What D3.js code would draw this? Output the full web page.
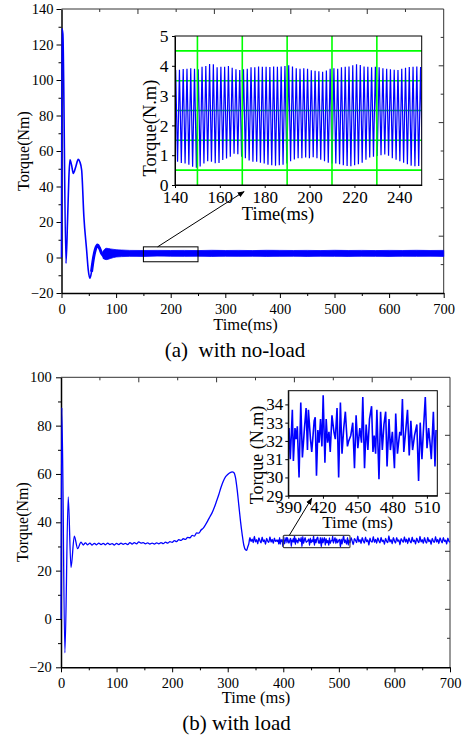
<!DOCTYPE html>
<html>
<head>
<meta charset="utf-8">
<script src="https://d3js.org/d3.v7.min.js"></script>
<style>
  body { margin: 0; background: #fff; }
  svg text { font-family: "Liberation Serif", "Times New Roman", serif; }
</style>
</head>
<body>
<div id="chart"></div>
<script>
// ---------- (a) with no-load ----------
// start transient
const noLoadT = [0, 0.8, 2.5, 8.2, 11, 13.5, 15.5, 18.5, 21.6, 26, 30.7, 33.5, 36.9, 41, 46, 49, 52, 55, 58, 62, 66, 70, 73.5, 79.5];
const noLoadV = [0, 129, 126, -3.3, 20, 45, 55, 52, 47.4, 51, 55.3, 54, 49.3, 23, 4.2, -7, -11.7, -8, -1.4, 4.5, 7, 5, 2.4, 0.1];

// steady ripple band on the main plot (upper / lower edge)
const bandT    = [76, 82, 90, 100, 110, 125, 150, 175, 200, 225, 250, 275, 300, 325, 350, 375, 400, 425, 450, 475, 500, 525, 550, 575, 600, 625, 650, 675, 700];
const bandHigh = [3.5, 5.2, 4.8, 4.4, 4.2, 4.0, 3.95, 4.0, 3.95, 3.98, 3.9, 4.05, 3.95, 4.0, 3.9, 4.05, 4.0, 3.95, 4.0, 3.9, 4.05, 3.95, 4.0, 3.9, 4.0, 3.95, 4.05, 3.95, 4.0];
const bandLow  = [-0.5, -1.2, -0.5, 0.3, 0.5, 0.65, 0.6, 0.8, 0.7, 0.65, 0.7, 0.6, 0.7, 0.65, 0.7, 0.6, 0.65, 0.7, 0.6, 0.7, 0.65, 0.6, 0.7, 0.65, 0.6, 0.7, 0.65, 0.7, 0.6];

// zoomed ripple 140-250 ms: one peak and one trough per period
const zoomStart = 140.3, zoomPeriod = 1.68;
const zoomPeaks = [3.86, 3.87, 3.89, 3.90, 3.92, 3.90, 3.88, 3.97, 3.99, 4.06,
  4.05, 3.95, 3.97, 3.97, 3.99, 3.93, 3.88, 3.86,
  3.88, 3.90, 3.95, 3.95, 3.98, 3.97, 3.97, 3.96, 3.98, 3.97, 3.98, 3.99,
  4.02, 3.98, 3.92, 3.90, 3.92, 3.90,
  3.85, 3.83, 3.82, 3.80, 3.84,
  3.90, 3.92, 3.90, 3.95, 3.97, 3.98,
  4.02, 4.05, 4.03, 3.98, 3.97, 3.95, 3.97,
  3.95, 3.92, 3.90, 3.88, 3.87, 3.86,
  3.90, 3.93, 3.96, 3.97, 3.98, 3.96];
const zoomTroughs = [0.78, 0.74, 0.72, 0.68, 0.61, 0.58, 0.62, 0.72, 0.80, 0.78,
  0.73, 0.74, 0.84, 0.89, 0.95, 1.05, 1.03, 0.95, 0.90, 0.82,
  0.78, 0.78, 0.75, 0.72, 0.68, 0.66, 0.65, 0.66, 0.68, 0.72,
  0.80, 0.86, 0.90, 0.90, 0.92, 0.90, 0.93, 0.90, 0.85, 0.80,
  0.75, 0.72, 0.72, 0.70, 0.66, 0.64, 0.63, 0.66, 0.70, 0.75,
  0.85, 0.92, 0.95, 0.97, 1.00, 1.02, 0.98, 0.90, 0.85, 0.80,
  0.75, 0.70, 0.65, 0.63, 0.64, 0.66];

// ---------- (b) with load ----------
const loadT = [0, 1.5, 7, 13, 18, 24, 30, 36, 40, 44, 48, 52, 56, 60, 64, 68, 72, 76, 80, 84, 88, 92, 96, 100,
  104, 108, 112, 116, 120, 124, 128, 132, 136, 140, 144, 148, 152, 156, 160, 164, 168, 172, 176, 180, 184, 188,
  192, 196, 200, 204, 208, 212, 216, 220, 224, 228, 232, 236, 240, 244, 248, 252, 256, 260, 264, 268, 272, 276,
  280, 284, 288, 292, 296, 300, 304, 308, 311, 314, 317, 320, 323, 326, 329, 332, 334, 336];
const loadV = [0, 87.5, -14, 50.5, 21.3, 34.3, 29.1, 31.8, 30.6, 31.5, 30.7, 31.4, 30.6, 31.3, 30.7, 31.4, 30.8, 31.3, 30.7, 31.4, 30.8, 31.2, 30.6, 31.3,
  30.8, 31.4, 30.9, 31.3, 30.8, 31.6, 31.0, 31.6, 31.1, 31.9, 31.4, 31.6, 31.1, 31.5, 31.0, 31.4, 31.0, 31.5, 31.1, 31.6, 31.2, 31.8,
  31.4, 32.0, 31.7, 32.4, 32.0, 32.8, 32.5, 33.2, 32.9, 33.8, 33.6, 34.6, 34.3, 35.6, 35.5, 36.8, 37.6, 39.0, 40.6, 42.3, 44.0, 46.2,
  48.8, 51.5, 54.5, 57.0, 58.8, 59.8, 60.5, 60.9, 60.6, 58.5, 53.5, 47, 40.5, 35, 30.5, 28.6, 28.4, 29.8];

// steady part before the zoom window, every 2 ms from 338
const steadyAStart = 338, steadyStep = 2;
const steadyA = [31.2, 33.6, 32.1, 33.0, 31.6, 34.2, 31.9, 32.8, 31.1, 33.5, 32.4, 31.5, 33.9, 32.0, 32.7, 30.9, 33.3, 32.2, 31.7, 34.0, 31.8, 32.9, 31.3, 33.4, 32.1, 32.6];

// zoom window 390-518 ms
const loadZoomT = [389.4, 390.6, 391.7, 393.5, 394.4, 395.8, 396.7, 397.8, 399.3, 400.8, 402.2, 404, 405.4, 406.6, 407.4, 409.2, 410.3, 412.4, 413.3, 414.4,
  415.6, 416.7, 417.9, 419.1, 420.2, 421.7, 422.8, 424, 425.2, 426.3, 427.8, 429.5, 430.7, 432.2, 433.6, 435.1, 436.5, 438, 439.4, 441.2,
  442.3, 444.1, 445.8, 447.3, 448.7, 450.2, 451.9, 453.4, 454.5, 456, 457.4, 458.9, 460.3, 462.1, 463.3, 464.4, 465.6, 466.7, 468.5, 469.9,
  471.4, 472.8, 474.3, 475.5, 477.2, 478.4, 480.1, 481.9, 483, 484.5, 486.5, 487.7, 488.8, 490, 491.7, 493.2, 494.7, 496.1, 497.6, 499.3,
  501.3, 502.8, 504.2, 505.7, 506.9, 508.6, 510.1, 511.5, 512.7, 513.8, 515.6, 517, 517.9];
const loadZoomV = [32.1, 32.7, 31.0, 33.7, 30.9, 32.7, 32.1, 32.8, 30.0, 34.1, 31.1, 32.7, 33.8, 31.5, 33.7, 32.1, 31.4, 33.1, 33.3, 30.1,
  32.6, 31.9, 33.2, 31.7, 34.5, 30.8, 33.2, 31.9, 32.5, 31.4, 33.4, 32.5, 32.1, 33.8, 30.0, 34.1, 31.3, 32.7, 33.6, 31.7,
  32.0, 32.3, 33.0, 30.5, 33.4, 31.6, 32.7, 31.9, 34.4, 30.5, 32.9, 31.5, 33.2, 33.9, 31.4, 32.3, 31.3, 33.7, 29.9, 33.6,
  31.5, 32.9, 33.6, 30.6, 33.2, 31.5, 32.5, 30.5, 33.5, 31.3, 32.5, 32.3, 34.3, 31.4, 32.6, 33.7, 31.2, 33.1, 31.5, 32.3,
  32.9, 29.8, 33.0, 31.0, 32.5, 34.4, 31.6, 32.7, 31.9, 31.0, 33.6, 30.6, 32.6];

// steady part after the zoom window, every 2 ms from 520
const steadyBStart = 520;
const steadyB = [31.5, 33.7, 32.2, 30.8, 33.2, 32.5, 31.6, 34.3, 31.9, 32.8, 31.2, 33.6, 32.3, 31.4, 33.9, 32.0, 32.7, 30.6, 33.4, 32.1,
  31.8, 34.1, 31.7, 32.9, 31.3, 33.5, 32.4, 31.5, 33.8, 32.0, 32.6, 30.9, 33.3, 32.2, 31.6, 34.4, 31.9, 32.8, 31.1, 33.6,
  32.3, 31.4, 33.7, 32.1, 32.7, 30.7, 33.2, 32.4, 31.7, 34.0, 31.8, 33.0, 31.2, 33.5, 32.2, 31.5, 33.9, 32.0, 32.6, 31.0,
  33.4, 32.3, 31.6, 34.2, 31.9, 32.8, 31.3, 33.6, 32.1, 31.4, 33.8, 32.0, 32.7, 30.8, 33.3, 32.2, 31.7, 34.1, 31.8, 32.9,
  31.2, 33.5, 32.4, 31.5, 33.7, 32.1, 32.6, 31.0, 33.4, 32.2, 31.8];

// tick values
const timeTicks = [0, 100, 200, 300, 400, 500, 600, 700];
const timeMinor = [50, 150, 250, 350, 450, 550, 650];
const torqueTicksA = [-20, 0, 20, 40, 60, 80, 100, 120, 140];
const torqueMinorA = [-10, 10, 30, 50, 70, 90, 110, 130];
const torqueTicksB = [-20, 0, 20, 40, 60, 80, 100];
const torqueMinorB = [-10, 10, 30, 50, 70, 90];
const insetATimeTicks = [140, 160, 180, 200, 220, 240];
const insetATorqueTicks = [0, 1, 2, 3, 4, 5];
const insetAGridX = [150, 170, 190, 210, 230];
const insetAGridY = [0.5, 1.5, 2.5, 3.5, 4.5];
const insetBTimeTicks = [390, 420, 450, 480, 510];
const insetBTorqueTicks = [29, 30, 31, 32, 33, 34];

const serif = '"Liberation Serif", "Times New Roman", serif';
const blue = "#0000ff";
const fmt = d3.format("d");

const svg = d3.select("#chart")
  .append("svg")
    .attr("width", 466)
    .attr("height", 736);

// scales
const xA = d3.scaleLinear().domain([0, 700]).range([61.5, 443.7]);
const yA = d3.scaleLinear().domain([-20, 140]).range([293, 9]);
const xAi = d3.scaleLinear().domain([140, 250]).range([175, 421.7]);
const yAi = d3.scaleLinear().domain([0, 5]).range([185, 36]);

const xB = d3.scaleLinear().domain([0, 700]).range([61, 450]);
const yB = d3.scaleLinear().domain([-20, 100]).range([667.3, 377.3]);
const xBi = d3.scaleLinear().domain([390, 519]).range([288.3, 437.3]);
const yBi = d3.scaleLinear().domain([29, 34.75]).range([495.7, 390.7]);

function styleText(g, size) {
  g.attr("font-family", null).attr("font-size", null);
  g.selectAll("text")
    .style("font-family", serif)
    .style("font-size", size + "px")
    .attr("fill", "#000");
}

// frame of a main panel: outward ticks left/bottom, inward ticks top/right
function mainAxes(x, y, yMajor, yMinor, padX, padY) {
  const [l, r] = x.range(), [b, t] = y.range();
  const xt = d3.scaleLinear().domain([0, 10]).range([l, r]);
  const yt = d3.scaleLinear().domain([0, 10]).range([b, t]);

  svg.append("path")
    .attr("d", `M${l},${t}H${r}V${b}`)
    .attr("fill", "none")
    .attr("stroke", "#333")
    .attr("stroke-width", 1);
  svg.append("g").selectAll("line")
    .data(d3.range(1, 10))
    .join("line")
      .attr("x1", d => xt(d)).attr("x2", d => xt(d))
      .attr("y1", t).attr("y2", d => t + (d % 2 ? 3 : 5))
      .attr("stroke", "#333");
  svg.append("g").selectAll("line")
    .data(d3.range(1, 10))
    .join("line")
      .attr("y1", d => yt(d)).attr("y2", d => yt(d))
      .attr("x1", r).attr("x2", d => r - (d % 2 ? 3 : 5))
      .attr("stroke", "#333");

  // minor ticks
  svg.append("g")
    .attr("transform", `translate(0,${b})`)
    .call(d3.axisBottom(x).tickValues(timeMinor).tickSize(3).tickFormat(""))
    .call(g => g.select(".domain").remove());
  svg.append("g")
    .attr("transform", `translate(${l},0)`)
    .call(d3.axisLeft(y).tickValues(yMinor).tickSize(3).tickFormat(""))
    .call(g => g.select(".domain").remove());

  // X axis
  const gx = svg.append("g")
    .attr("transform", `translate(0,${b})`)
    .call(d3.axisBottom(x).tickValues(timeTicks).tickSize(5).tickSizeOuter(0).tickPadding(padX).tickFormat(fmt));
  gx.select(".domain").attr("stroke-width", 1.5);
  styleText(gx, 14.5);

  // Y axis
  const gy = svg.append("g")
    .attr("transform", `translate(${l},0)`)
    .call(d3.axisLeft(y).tickValues(yMajor).tickSize(5).tickSizeOuter(0).tickPadding(padY).tickFormat(fmt));
  gy.select(".domain").attr("stroke-width", 1.5);
  styleText(gy, 14.5);
}

function label(txt, x, y, size, rotate) {
  svg.append("text")
    .attr("transform", `translate(${x},${y})` + (rotate ? " rotate(-90)" : ""))
    .attr("text-anchor", "middle")
    .style("font-family", serif)
    .style("font-size", size + "px")
    .style("white-space", "pre")
    .attr("fill", "#000")
    .text(txt);
}

// ================= panel (a) =================
mainAxes(xA, yA, torqueTicksA, torqueMinorA, 6, 3);

// steady ripple band
const band = d3.zip(bandT, bandHigh, bandLow);
svg.append("path")
  .datum(band)
  .attr("d", d3.area()
    .x(d => xA(d[0]))
    .y0(d => yA(d[2]))
    .y1(d => yA(d[1]))
    .curve(d3.curveMonotoneX))
  .attr("fill", blue)
  .attr("stroke", blue)
  .attr("stroke-width", 0.8);

// start transient
const noLoad = d3.zip(noLoadT, noLoadV);
const transLine = d3.line().x(d => xA(d[0])).y(d => yA(d[1])).curve(d3.curveMonotoneX);
svg.append("path")
  .datum(noLoad)
  .attr("d", transLine)
  .attr("fill", "none")
  .attr("stroke", blue)
  .attr("stroke-width", 1.6);
// ripple already rides on the tail of the transient: thicker trace there
svg.append("path")
  .datum(noLoad.filter(d => d[0] >= 55))
  .attr("d", transLine)
  .attr("fill", "none")
  .attr("stroke", blue)
  .attr("stroke-width", 3);

// zoom box
svg.append("rect")
  .attr("x", xA(150)).attr("y", yA(6))
  .attr("width", xA(250) - xA(150)).attr("height", yA(-2.4) - yA(6))
  .attr("fill", "none").attr("stroke", "#000").attr("stroke-width", 1);

svg.append("defs").append("marker")
  .attr("id", "head")
  .attr("viewBox", "0 0 10 10")
  .attr("refX", 9).attr("refY", 5)
  .attr("markerWidth", 7).attr("markerHeight", 7)
  .attr("orient", "auto")
  .append("path").attr("d", "M0,1L10,5L0,9z").attr("fill", "#000");

// inset (a)
const insetA = svg.append("g");
insetA.append("rect")
  .attr("x", xAi(140)).attr("y", yAi(5))
  .attr("width", xAi(250) - xAi(140)).attr("height", yAi(0) - yAi(5))
  .attr("fill", "#fff");
insetA.append("clipPath").attr("id", "clipA")
  .append("rect")
  .attr("x", xAi(140)).attr("y", yAi(5))
  .attr("width", xAi(250) - xAi(140)).attr("height", yAi(0) - yAi(5));

insetA.selectAll(".gridY")
  .data(insetAGridY)
  .join("line")
    .attr("class", "gridY")
    .attr("x1", xAi(140)).attr("x2", xAi(250))
    .attr("y1", d => yAi(d)).attr("y2", d => yAi(d))
    .attr("stroke", "#00ff00").attr("stroke-width", 1.6);

const ripple = [];
zoomPeaks.forEach((p, i) => {
  ripple.push([zoomStart + i * zoomPeriod, p]);
  ripple.push([zoomStart + (i + 0.5) * zoomPeriod, zoomTroughs[i]]);
});
insetA.append("path")
  .datum(ripple)
  .attr("clip-path", "url(#clipA)")
  .attr("d", d3.line().x(d => xAi(d[0])).y(d => yAi(d[1])))
  .attr("fill", "none")
  .attr("stroke", blue)
  .attr("stroke-width", 1.2);

insetA.selectAll(".gridX")
  .data(insetAGridX)
  .join("line")
    .attr("class", "gridX")
    .attr("x1", d => xAi(d)).attr("x2", d => xAi(d))
    .attr("y1", yAi(0)).attr("y2", yAi(5))
    .attr("stroke", "#00ff00").attr("stroke-width", 1.6);

insetA.append("rect")
  .attr("x", xAi(140)).attr("y", yAi(5))
  .attr("width", xAi(250) - xAi(140)).attr("height", yAi(0) - yAi(5))
  .attr("fill", "none").attr("stroke", "#000").attr("stroke-width", 1);

const gxAi = insetA.append("g")
  .attr("transform", `translate(0,${yAi(0)})`)
  .call(d3.axisBottom(xAi).tickValues(insetATimeTicks).tickSize(3).tickSizeOuter(0).tickPadding(2.5).tickFormat(fmt));
styleText(gxAi, 17);
const gyAi = insetA.append("g")
  .attr("transform", `translate(${xAi(140)},0)`)
  .call(d3.axisLeft(yAi).tickValues(insetATorqueTicks).tickSize(3).tickSizeOuter(0).tickPadding(3.5).tickFormat(fmt));
styleText(gyAi, 17.5);

svg.append("line")
  .attr("x1", xA(176)).attr("y1", yA(6))
  .attr("x2", xAi(170.8)).attr("y2", yAi(-0.22))
  .attr("stroke", "#000").attr("stroke-width", 1)
  .attr("marker-end", "url(#head)");

label("Torque(N.m)", 155.5, 128, 18.5, true);
label("Time(ms)", 278, 220, 18.5);

label("Torque(Nm)", 28.5, 151, 16, true);
label("Time(ms)", 245.5, 330, 16.5);
label("(a)  with no-load", 235, 356.5, 21);

// ================= panel (b) =================
mainAxes(xB, yB, torqueTicksB, torqueMinorB, 5.4, 4.3);

const loadLine = d3.zip(loadT, loadV)
  .concat(steadyA.map((v, i) => [steadyAStart + i * steadyStep, v]))
  .concat(d3.zip(loadZoomT, loadZoomV))
  .concat(steadyB.map((v, i) => [steadyBStart + i * steadyStep, v]));

svg.append("path")
  .datum(loadLine)
  .attr("d", d3.line().x(d => xB(d[0])).y(d => yB(d[1])).curve(d3.curveMonotoneX))
  .attr("fill", "none")
  .attr("stroke", blue)
  .attr("stroke-width", 1.3);

svg.append("rect")
  .attr("x", xB(400)).attr("y", yB(34.6))
  .attr("width", xB(520) - xB(400)).attr("height", yB(29.5) - yB(34.6))
  .attr("rx", 1)
  .attr("fill", "none").attr("stroke", "#444").attr("stroke-width", 1.2);

// inset (b)
const insetB = svg.append("g");
insetB.append("rect")
  .attr("x", xBi(390)).attr("y", yBi(34.75))
  .attr("width", xBi(519) - xBi(390)).attr("height", yBi(29) - yBi(34.75))
  .attr("fill", "#fff");
insetB.append("clipPath").attr("id", "clipB")
  .append("rect")
  .attr("x", xBi(390)).attr("y", yBi(34.75))
  .attr("width", xBi(519) - xBi(390)).attr("height", yBi(29) - yBi(34.75));

insetB.append("path")
  .datum(d3.zip(loadZoomT, loadZoomV))
  .attr("clip-path", "url(#clipB)")
  .attr("d", d3.line().x(d => xBi(d[0])).y(d => yBi(d[1])))
  .attr("fill", "none")
  .attr("stroke", blue)
  .attr("stroke-width", 1.6);

insetB.append("rect")
  .attr("x", xBi(390)).attr("y", yBi(34.75))
  .attr("width", xBi(519) - xBi(390)).attr("height", yBi(29) - yBi(34.75))
  .attr("fill", "none").attr("stroke", "#000").attr("stroke-width", 1);

const gxBi = insetB.append("g")
  .attr("transform", `translate(0,${yBi(29)})`)
  .call(d3.axisBottom(xBi).tickValues(insetBTimeTicks).tickSize(3).tickSizeOuter(0).tickPadding(2).tickFormat(fmt));
styleText(gxBi, 17.5);
const gyBi = insetB.append("g")
  .attr("transform", `translate(${xBi(390)},0)`)
  .call(d3.axisLeft(yBi).tickValues(insetBTorqueTicks).tickSize(3).tickSizeOuter(0).tickPadding(2).tickFormat(fmt));
styleText(gyBi, 17);

svg.append("line")
  .attr("x1", xB(410.8)).attr("y1", yB(34.6))
  .attr("x2", xBi(410.3)).attr("y2", yBi(28.86))
  .attr("stroke", "#000").attr("stroke-width", 1)
  .attr("marker-end", "url(#head)");

label("Torque (N.m)", 262.5, 455, 18, true);
label("Time (ms)", 357.5, 528, 17);

label("Torque(Nm)", 27.5, 522, 16, true);
label("Time (ms)", 256, 703, 16.5);
label("(b) with load", 236.5, 730, 21);
</script>
</body>
</html>
